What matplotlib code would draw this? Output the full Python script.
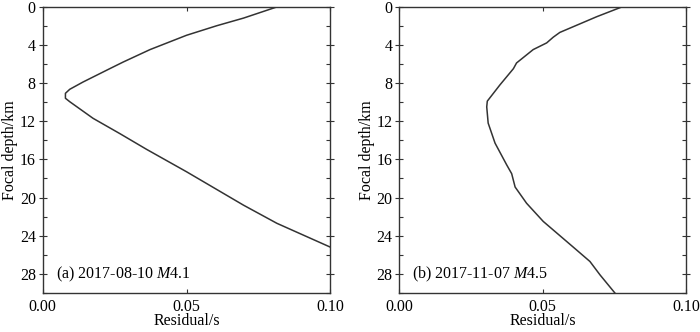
import numpy as np
import matplotlib
matplotlib.use('Agg')
import matplotlib.pyplot as plt
from matplotlib.ticker import MultipleLocator

plt.rcParams['font.family'] = ['Liberation Serif', 'DejaVu Serif']
plt.rcParams['mathtext.fontset'] = 'custom'
plt.rcParams['mathtext.rm'] = 'Liberation Serif'
plt.rcParams['mathtext.it'] = 'Liberation Serif:italic'

# event (a) residual vs focal depth
depth_a = [0, 1.2, 2.0, 3.0, 4.5, 5.8, 6.5, 7.9, 8.66, 9.08, 9.6, 9.96, 11.7, 13.3,
           14.95, 17.3, 20.8, 22.7, 25.2]
resid_a = [0.0817, 0.0698, 0.0605, 0.050, 0.0373, 0.028, 0.0233, 0.014, 0.0094, 0.0079,
           0.0079, 0.0094, 0.0175, 0.0268, 0.0361, 0.050, 0.0698, 0.0814, 0.100]

# event (b)
depth_b = [0, 1.05, 2.7, 3.2, 3.8, 4.5, 5.9, 6.5, 8.2, 9.9, 10.5, 12.2, 14.3, 16.6,
           17.5, 18.9, 20.6, 22.5, 25.2, 26.7, 28.1, 30]
resid_b = [0.0779, 0.0689, 0.056, 0.0537, 0.0514, 0.0467, 0.0409, 0.0398, 0.0351, 0.0307,
           0.0305, 0.031, 0.0334, 0.0375, 0.0392, 0.0404, 0.0444, 0.0502, 0.0607, 0.0665,
           0.070, 0.0752]

labels = [r'(a) 2017-08-10 $\it{M}$4.1', r'(b) 2017-11-07 $\it{M}$4.5']

fig = plt.figure(figsize=(7, 3.32), dpi=100)
ax1 = fig.add_axes([0.061, 0.1175, 0.411, 0.8625])
ax2 = fig.add_axes([0.5704, 0.1175, 0.4096, 0.8625])

fs = 11.5
for ax, d, r, lab in [(ax1, depth_a, resid_a, labels[0]), (ax2, depth_b, resid_b, labels[1])]:
    ax.plot(r, d, color='#333333', lw=1.1)
    ax.set_xlim(0, 0.1)
    ax.set_ylim(30, 0)
    ax.set_xticks([0, 0.05, 0.10])
    ax.set_xticklabels(['0.00', '0.05', '0.10'])
    ax.set_yticks(np.arange(0, 29, 4))
    ax.yaxis.set_minor_locator(MultipleLocator(2))
    ax.tick_params(axis='x', direction='in', length=3, top=True, labelsize=fs, pad=4,
                   width=0.8, color='#333333')
    ax.tick_params(axis='y', which='major', direction='inout', length=6, labelsize=fs,
                   right=True, width=0.8, color='#333333', pad=2)
    ax.tick_params(axis='y', which='minor', direction='in', length=3, right=True,
                   width=0.8, color='#333333')
    for s in ax.spines.values():
        s.set_color('#333333')
        s.set_linewidth(1.0)
    ax.set_xlabel('Residual/s', fontsize=fs, labelpad=-1)
    ax.set_ylabel('Focal depth/km', fontsize=fs, labelpad=1)
    ax.text(0.0045, 28.1, lab, fontsize=fs, va='center', ha='left')

fig.savefig('out.png', dpi=100)
